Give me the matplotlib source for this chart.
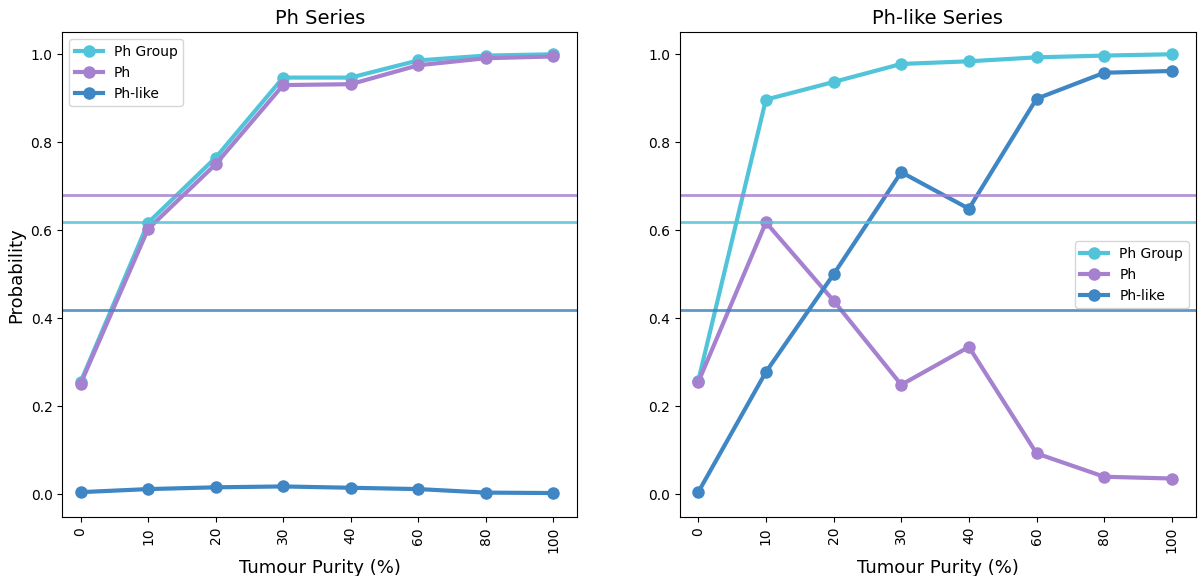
import numpy as np
import matplotlib
matplotlib.use("Agg")
import matplotlib.pyplot as plt

purity = ["0", "10", "20", "30", "40", "60", "80", "100"]

# Ph series
ph_group_ph = [0.255, 0.617, 0.765, 0.947, 0.947, 0.986, 0.997, 1.0]
ph_ph = [0.251, 0.603, 0.75, 0.93, 0.932, 0.975, 0.991, 0.995]
phlike_ph = [0.005, 0.012, 0.016, 0.018, 0.015, 0.012, 0.004, 0.003]

# Ph-like series
ph_group_phlike = [0.258, 0.897, 0.937, 0.978, 0.984, 0.993, 0.997, 1.0]
ph_phlike = [0.255, 0.618, 0.44, 0.249, 0.335, 0.093, 0.04, 0.036]
phlike_phlike = [0.005, 0.278, 0.5, 0.732, 0.649, 0.899, 0.958, 0.962]

# thresholds
thr_ph_group = 0.618
thr_ph = 0.681
thr_phlike = 0.419

c_group = "#52c4d9"
c_ph = "#a581d0"
c_phlike = "#3f86c4"

fig = plt.figure(figsize=(11.98, 5.76), dpi=100)
ax1 = fig.add_axes([0.052, 0.102, 0.4296, 0.842])
ax2 = fig.add_axes([0.5676, 0.102, 0.4304, 0.842])

x = np.arange(len(purity))

def draw(ax, group, ph, phlike, title, legend_loc):
    ax.plot(x, group, "-o", color=c_group, lw=3, ms=8, label="Ph Group")
    ax.plot(x, ph, "-o", color=c_ph, lw=3, ms=8, label="Ph")
    ax.plot(x, phlike, "-o", color=c_phlike, lw=3, ms=8, label="Ph-like")
    ax.axhline(thr_ph_group, color=c_group, lw=2, alpha=0.85)
    ax.axhline(thr_ph, color=c_ph, lw=2, alpha=0.85)
    ax.axhline(thr_phlike, color=c_phlike, lw=2, alpha=0.85)
    ax.set_xticks(x)
    ax.set_xticklabels(purity, rotation=90)
    ax.set_xlim(-0.27, 7.35)
    ax.set_ylim(-0.052, 1.05)
    ax.set_yticks([0.0, 0.2, 0.4, 0.6, 0.8, 1.0])
    ax.set_xlabel("Tumour Purity (%)", fontsize=13)
    ax.set_title(title, fontsize=14)
    ax.legend(loc=legend_loc, fontsize=10)

draw(ax1, ph_group_ph, ph_ph, phlike_ph, "Ph Series", "upper left")
draw(ax2, ph_group_phlike, ph_phlike, phlike_phlike, "Ph-like Series", "center right")
ax1.set_ylabel("Probability", fontsize=13)

fig.savefig("out.png", dpi=100)
